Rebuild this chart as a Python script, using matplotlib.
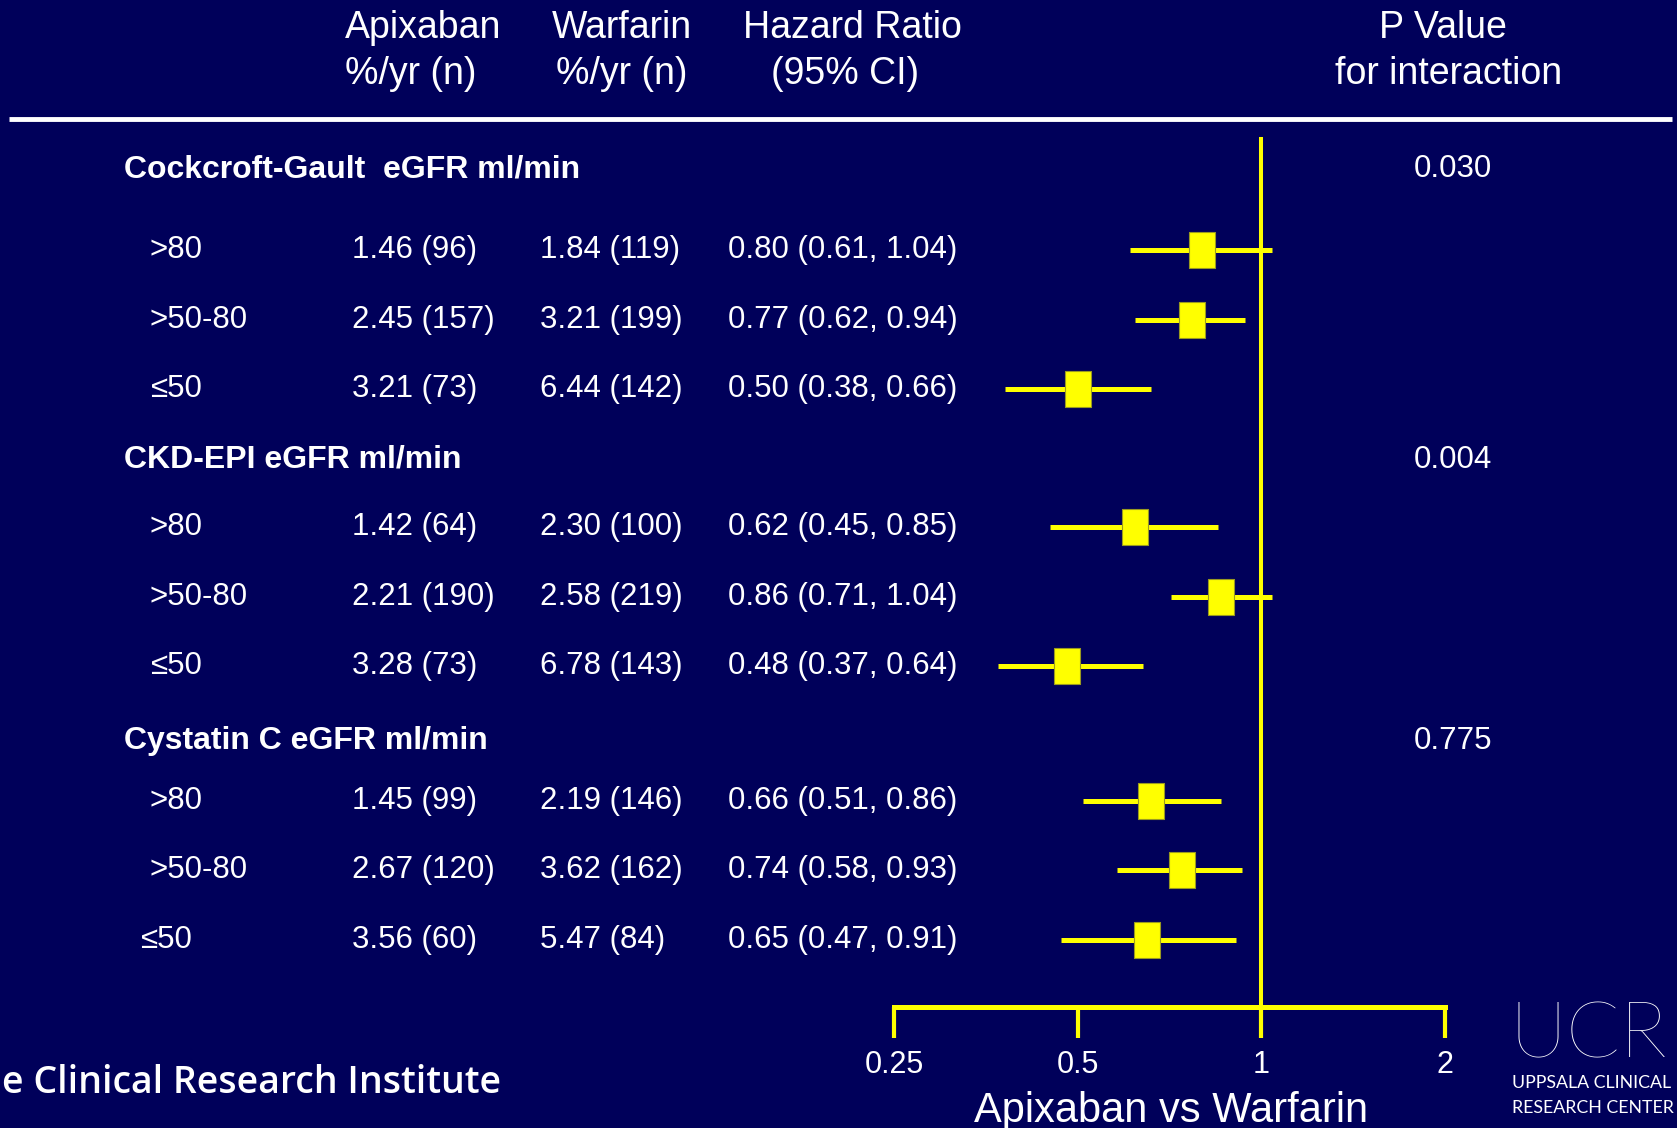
import matplotlib
matplotlib.use('Agg')
import matplotlib.pyplot as plt
from matplotlib.path import Path

# data
groups = ['Cockcroft-Gault  eGFR ml/min', 'CKD-EPI eGFR ml/min', 'Cystatin C eGFR ml/min']
p_values = ['0.030', '0.004', '0.775']
subgroups = ['>80', '>50-80', '\u226450'] * 3
apix_rate = [1.46, 2.45, 3.21, 1.42, 2.21, 3.28, 1.45, 2.67, 3.56]
apix_n = [96, 157, 73, 64, 190, 73, 99, 120, 60]
warf_rate = [1.84, 3.21, 6.44, 2.30, 2.58, 6.78, 2.19, 3.62, 5.47]
warf_n = [119, 199, 142, 100, 219, 143, 146, 162, 84]
hr = [0.80, 0.77, 0.50, 0.62, 0.86, 0.48, 0.66, 0.74, 0.65]
hr_lo = [0.61, 0.62, 0.38, 0.45, 0.71, 0.37, 0.51, 0.58, 0.47]
hr_hi = [1.04, 0.94, 0.66, 0.85, 1.04, 0.64, 0.86, 0.93, 0.91]
ticks = [0.25, 0.5, 1, 2]
tick_labels = ['0.25', '0.5', '1', '2']

# layout (pixel rows of the 1677x1128 canvas)
W, H = 1677, 1128
group_y = [169, 460, 741]
row_y = [250, 320, 389, 527, 597, 666, 801, 870, 940]
sub_x = [150] * 8 + [140]
axis_y = 1007

bg_col = '#00005A'
yel = '#FFFF00'
font = ['Liberation Sans', 'DejaVu Sans']
logo_font = ['Lato', 'Open Sans', 'DejaVu Sans']

fig = plt.figure(figsize=(W / 100, H / 100), dpi=100, facecolor=bg_col)

# text layer in pixel coords
bg = fig.add_axes([0, 0, 1, 1])
bg.set_xlim(0, W)
bg.set_ylim(H, 0)
bg.axis('off')

def txt(x, y, s, size, ha='left', weight='normal', family=font, **kw):
    bg.text(x, y, s, fontsize=size, ha=ha, va='center', color='white',
            fontweight=weight, family=family, **kw)

# column headers
txt(423, 28, 'Apixaban', 27, ha='center')
txt(345, 74, '%/yr (n)', 27)
txt(622, 28, 'Warfarin', 27, ha='center')
txt(622, 74, '%/yr (n)', 27, ha='center')
txt(852, 28, 'Hazard Ratio', 27, ha='center')
txt(845, 74, '(95% CI)', 27, ha='center')
txt(1443, 28, 'P Value', 27, ha='center')
txt(1449, 74, 'for interaction', 27, ha='center')
bg.plot([9, 1672], [119, 119], color='white', lw=3.5, solid_capstyle='butt')

for g, gy, p in zip(groups, group_y, p_values):
    txt(124, gy, g, 23, weight='bold')
    txt(1453, gy, p, 22.5, ha='center')

for i, y in enumerate(row_y):
    txt(sub_x[i], y, subgroups[i], 22.5)
    txt(352, y, f'{apix_rate[i]:.2f} ({apix_n[i]})', 22.5)
    txt(540, y, f'{warf_rate[i]:.2f} ({warf_n[i]})', 22.5)
    txt(728, y, f'{hr[i]:.2f} ({hr_lo[i]:.2f}, {hr_hi[i]:.2f})', 22.5)

# footer / logo text
bg.text(2, 1083, 'e Clinical Research Institute', fontsize=27, ha='left', va='center',
        color='white', family=['Open Sans', 'DejaVu Sans'], fontweight='semibold')
bg.text(1510, 1036, 'UCR', fontsize=57, ha='left', va='center', color='white',
        family=logo_font, fontweight='light')
bg.text(1512, 1083, 'UPPSALA CLINICAL', fontsize=12.8, ha='left', va='center', color='white',
        family=logo_font)
bg.text(1512, 1108, 'RESEARCH CENTER', fontsize=12.8, ha='left', va='center', color='white',
        family=logo_font)
txt(1171, 1111, 'Apixaban vs Warfarin', 30, ha='center')

# forest plot layer: log2 x-scale, pixel rows for y
x0, x1 = 894, 1445
ax = fig.add_axes([x0 / W, 0, (x1 - x0) / W, 1])
ax.set_xscale('log', base=2)
ax.set_xlim(ticks[0], ticks[-1])
ax.set_ylim(H, 0)
ax.axis('off')
ax.patch.set_alpha(0)

ax.plot([1, 1], [139, axis_y], color=yel, lw=2.9, clip_on=False, zorder=1)
ax.plot([ticks[0], ticks[-1]], [axis_y, axis_y], color=yel, lw=3.6, clip_on=False,
        solid_capstyle='projecting')
for t, lab in zip(ticks, tick_labels):
    ax.plot([t, t], [axis_y, 1038], color=yel, lw=3, clip_on=False, solid_capstyle='butt')
    ax.text(t, 1065, lab, fontsize=22, ha='center', va='center', color='white',
            family=font, clip_on=False)

rect = Path([(-13, -18), (13, -18), (13, 18), (-13, 18), (-13, -18)],
            [Path.MOVETO, Path.LINETO, Path.LINETO, Path.LINETO, Path.CLOSEPOLY])
for i, y in enumerate(row_y):
    ax.plot([hr_lo[i], hr_hi[i]], [y, y], color=yel, lw=3.6, clip_on=False,
            solid_capstyle='butt', zorder=2)
    ax.plot(hr[i], y, marker=rect, markersize=26, color=yel, markeredgecolor='#9a9a20',
            markeredgewidth=0.8, clip_on=False, zorder=3)

fig.savefig('out.png', dpi=100, facecolor=bg_col)
